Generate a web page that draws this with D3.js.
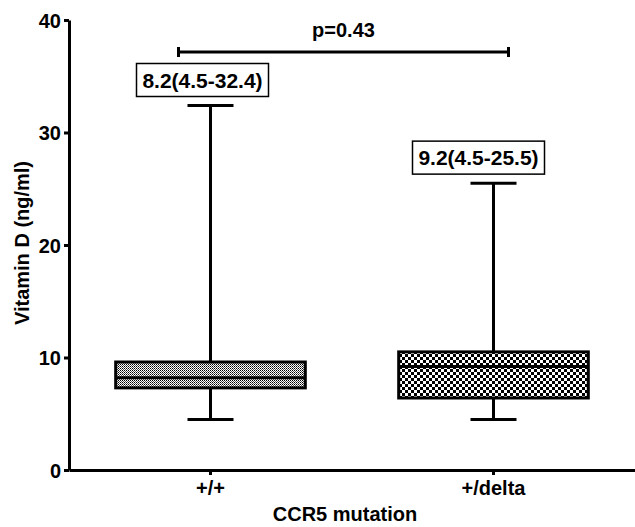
<!DOCTYPE html>
<html>
<head>
<meta charset="utf-8">
<script src="https://cdn.jsdelivr.net/npm/d3@7"></script>
<style>
  body { margin: 0; background: #fff; }
  svg { display: block; font-family: "Liberation Sans", Arial, sans-serif; font-weight: bold; }
</style>
</head>
<body>
<svg class="chart"></svg>
<script>
// chart data
var groups = ["+/+", "+/delta"];
var mins = [4.5, 4.5];
var q1 = [7.3, 6.4];
var medians = [8.2, 9.2];
var q3 = [9.6, 10.5];
var maxs = [32.4, 25.5];
var boxLabels = ["8.2(4.5-32.4)", "9.2(4.5-25.5)"];
var yTicks = [0, 10, 20, 30, 40];
var pLabel = "p=0.43";
var xTitle = "CCR5 mutation";
var yTitle = "Vitamin D (ng/ml)";

var frameWidth = 635;
var frameHeight = 527;
var plotLeft = 69, plotRight = 635, plotTop = 20, plotBottom = 470;

var svg = d3.select(".chart").attr("width", frameWidth).attr("height", frameHeight);

var xScale = d3.scaleBand().domain(groups).range([plotLeft, plotRight]).paddingInner(0.33).paddingOuter(0.165);
var yScale = d3.scaleLinear().domain([0, 40]).range([plotBottom, plotTop]);

// fill patterns
var defs = svg.append("defs");
var p1 = defs.append("pattern").attr("id", "fine").attr("width", 2).attr("height", 2).attr("patternUnits", "userSpaceOnUse");
p1.append("rect").attr("width", 2).attr("height", 2).attr("fill", "#fff");
p1.append("rect").attr("width", 1).attr("height", 1).attr("fill", "#000");
p1.append("rect").attr("x", 1).attr("y", 1).attr("width", 1).attr("height", 1).attr("fill", "#555");
var p2 = defs.append("pattern").attr("id", "coarse").attr("width", 6).attr("height", 6).attr("patternUnits", "userSpaceOnUse");
p2.append("rect").attr("width", 6).attr("height", 6).attr("fill", "#000");
p2.append("rect").attr("width", 3).attr("height", 3).attr("fill", "#fff");
p2.append("rect").attr("x", 3).attr("y", 3).attr("width", 3).attr("height", 3).attr("fill", "#fff");
var fills = ["url(#fine)", "url(#coarse)"];

var data = groups.map(function(g, i) {
  return {g: g, min: mins[i], q1: q1[i], med: medians[i], q3: q3[i], max: maxs[i], label: boxLabels[i], fill: fills[i]};
});

var bw = xScale.bandwidth();
var capHalf = 23;

var box = svg.selectAll("g.box").data(data).enter().append("g").attr("class", "box");

// whisker line
box.append("line")
  .attr("x1", function(d) { return xScale(d.g) + bw / 2; })
  .attr("x2", function(d) { return xScale(d.g) + bw / 2; })
  .attr("y1", function(d) { return yScale(d.min); })
  .attr("y2", function(d) { return yScale(d.max); })
  .attr("stroke", "#000").attr("stroke-width", 3);
// caps
["min", "max"].forEach(function(k) {
  box.append("line")
    .attr("x1", function(d) { return xScale(d.g) + bw / 2 - capHalf; })
    .attr("x2", function(d) { return xScale(d.g) + bw / 2 + capHalf; })
    .attr("y1", function(d) { return yScale(d[k]); })
    .attr("y2", function(d) { return yScale(d[k]); })
    .attr("stroke", "#000").attr("stroke-width", 3);
});
// box body
box.append("rect")
  .attr("x", function(d) { return xScale(d.g); })
  .attr("width", bw)
  .attr("y", function(d) { return yScale(d.q3); })
  .attr("height", function(d) { return yScale(d.q1) - yScale(d.q3); })
  .attr("fill", function(d) { return d.fill; })
  .attr("stroke", "#000").attr("stroke-width", 3);
// median
box.append("line")
  .attr("x1", function(d) { return xScale(d.g); })
  .attr("x2", function(d) { return xScale(d.g) + bw; })
  .attr("y1", function(d) { return yScale(d.med); })
  .attr("y2", function(d) { return yScale(d.med); })
  .attr("stroke", "#000").attr("stroke-width", 3);

// summary labels in boxes
var labelOffsets = [-8, -15];
var lab = box.append("g")
  .attr("transform", function(d, i) {
    return "translate(" + (xScale(d.g) + bw / 2 + labelOffsets[i]) + "," + (yScale(d.max) - 9) + ")";
  });
lab.append("rect")
  .attr("x", -66).attr("y", -33).attr("width", 132).attr("height", 33)
  .attr("fill", "#fff").attr("stroke", "#000").attr("stroke-width", 1.5);
lab.append("text")
  .attr("y", -9)
  .attr("text-anchor", "middle")
  .style("font-size", "21px")
  .text(function(d) { return d.label; });

// p-value bracket
var bx1 = xScale(groups[0]) + bw / 2 - 32;
var bx2 = xScale(groups[1]) + bw / 2 + 15;
var by = 52;
svg.append("line").attr("x1", bx1).attr("x2", bx2).attr("y1", by).attr("y2", by).attr("stroke", "#000").attr("stroke-width", 3);
[bx1, bx2].forEach(function(x) {
  svg.append("line").attr("x1", x).attr("x2", x).attr("y1", by - 5).attr("y2", by + 5).attr("stroke", "#000").attr("stroke-width", 3);
});
svg.append("text")
  .attr("x", (bx1 + bx2) / 2).attr("y", 37)
  .attr("text-anchor", "middle")
  .style("font-size", "20px")
  .text(pLabel);

// axes
var yAxis = svg.append("g")
  .attr("transform", "translate(" + plotLeft + ",0)")
  .call(d3.axisLeft(yScale).tickValues(yTicks).tickSize(5).tickSizeOuter(0).tickPadding(3));
var xAxis = svg.append("g")
  .attr("transform", "translate(0," + plotBottom + ")")
  .call(d3.axisBottom(xScale).tickSize(5).tickSizeOuter(0).tickPadding(6));
[yAxis, xAxis].forEach(function(a) {
  a.select(".domain").attr("stroke-width", 3);
  a.selectAll(".tick line").attr("stroke-width", 3);
  a.selectAll("text").style("font-size", "20px").attr("fill", "#000");
  a.attr("font-family", null);
});
yAxis.selectAll("text").attr("dy", "0.36em");

// axis titles
svg.append("text")
  .attr("x", (plotLeft + plotRight) / 2 - 7).attr("y", 521)
  .attr("text-anchor", "middle")
  .style("font-size", "20px")
  .text(xTitle);
svg.append("text")
  .attr("transform", "rotate(-90)")
  .attr("x", -243).attr("y", 29)
  .attr("text-anchor", "middle")
  .style("font-size", "20px")
  .text(yTitle);
</script>
</body>
</html>
